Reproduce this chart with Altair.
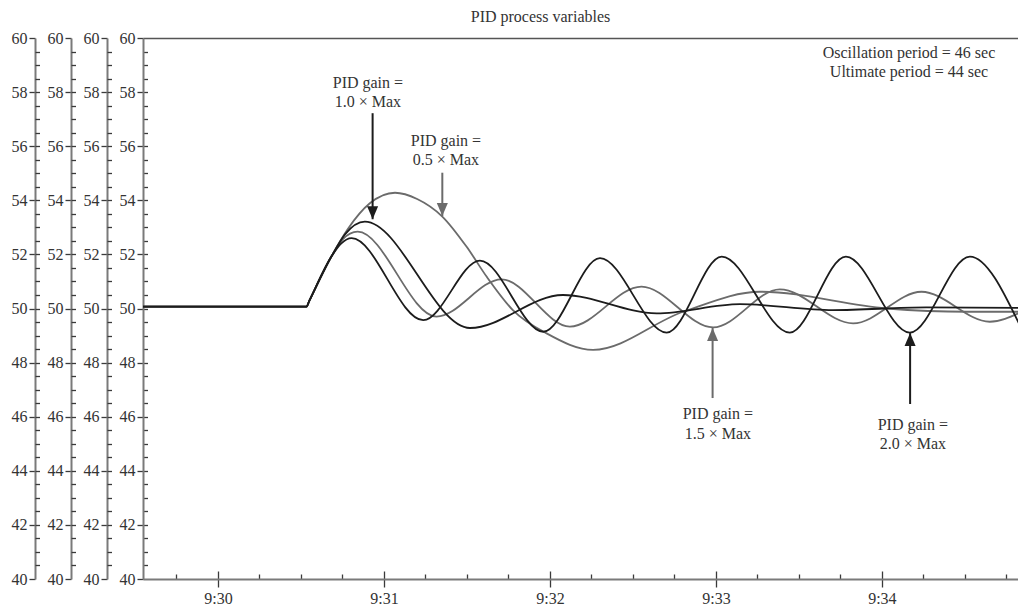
import altair as alt
import pandas as pd

# ---------------- data (times are seconds after 9:30:00) ----------------
TITLE = "PID process variables"
SERIES = ["0.5 × Max", "1.0 × Max", "1.5 × Max", "2.0 × Max"]

X_START = -27.1
X_END = 289.2
Y_MIN, Y_MAX = 40, 60

RAMP_SEC = [-27.1, 32.0, 33.0, 41.0]
RAMP_VAL = [50.07, 50.07, 50.28, 51.92]

G05_SEC = [47.0, 54.9, 64.0, 72.0, 81.1, 89.9, 97.1, 106.6, 118.8, 135.6, 168.2, 195.9, 241.7, 270.6, 290.0]
G05_VAL = [52.95, 53.89, 54.28, 54.05, 53.40, 52.28, 51.18, 49.94, 49.08, 48.47, 49.88, 50.62, 50.00, 49.88, 49.88]

G10_SEC = [46.0, 53.1, 91.1, 124.7, 158.6, 188.7, 222.3, 256.0, 290.0]
G10_VAL = [52.75, 53.21, 49.28, 50.50, 49.82, 50.16, 49.94, 50.04, 50.02]

G15_SEC = [45.0, 50.5, 79.0, 102.5, 127.2, 153.1, 179.0, 203.1, 229.6, 254.3, 279.0, 290.0]
G15_VAL = [52.55, 52.84, 49.70, 51.08, 49.33, 50.81, 49.30, 50.71, 49.45, 50.62, 49.51, 49.85]

G20_SEC = [44.5, 48.3, 74.2, 94.7, 117.6, 138.1, 162.2, 182.1, 206.7, 227.0, 250.1, 271.8, 290.0]
G20_VAL = [52.40, 52.60, 49.57, 51.77, 49.14, 51.86, 49.11, 51.92, 49.11, 51.92, 49.11, 51.92, 49.35]

ANN_SEC = [54.2, 54.2, 82.4, 82.4, 180.7, 180.7, 251.2, 251.2, 249.8, 249.8]
ANN_VAL = [58.35, 57.65, 56.19, 55.49, 46.10, 45.36, 45.69, 44.99, 59.45, 58.74]
ANN_TEXT = ["PID gain =", "1.0 × Max", "PID gain =", "0.5 × Max",
            "PID gain =", "1.5 × Max", "PID gain =", "2.0 × Max",
            "Oscillation period = 46 sec", "Ultimate period = 44 sec"]

ARROW_SERIES = ["1.0 × Max", "0.5 × Max", "1.5 × Max", "2.0 × Max"]
ARROW_SEC = [55.9, 81.1, 178.8, 250.2]
ARROW_TAIL = [57.22, 55.02, 46.69, 46.47]
ARROW_TIP = [53.30, 53.42, 49.28, 49.09]

MINUTE_TICKS = [0, 60, 120, 180, 240]
QUARTER_TICKS = [s for s in range(-15, 290, 15) if s % 60 != 0]
Y_MAJOR = list(range(40, 61, 2))
Y_MINOR = [40.5 + 0.5 * i for i in range(39)]

# ---------------- helpers ----------------
def _parts(sec):
    total_ms = int(round((9 * 3600 + 30 * 60 + sec) * 1000))
    h = total_ms // 3600000
    m = (total_ms // 60000) % 60
    s = (total_ms // 1000) % 60
    ms = total_ms % 1000
    return h, m, s, ms

def stamp(sec):
    h, m, s, ms = _parts(sec)
    return f"2024-01-01T{h:02d}:{m:02d}:{s:02d}.{ms:03d}"

def dt(sec):
    h, m, s, ms = _parts(sec)
    return alt.DateTime(year=2024, month=1, date=1, hours=h, minutes=m,
                        seconds=s, milliseconds=ms)

rows = []
for name, secs, vals in [(SERIES[0], G05_SEC, G05_VAL), (SERIES[1], G10_SEC, G10_VAL),
                         (SERIES[2], G15_SEC, G15_VAL), (SERIES[3], G20_SEC, G20_VAL)]:
    for s, v in zip(RAMP_SEC + secs, RAMP_VAL + vals):
        rows.append({"series": name, "time": stamp(s), "value": v})
lines_df = pd.DataFrame(rows)

ann_df = pd.DataFrame({"time": [stamp(s) for s in ANN_SEC], "value": ANN_VAL, "label": ANN_TEXT})
arrow_df = pd.DataFrame({"series": ARROW_SERIES, "time": [stamp(s) for s in ARROW_SEC],
                         "tail": ARROW_TAIL, "tip": ARROW_TIP})
carrier_df = pd.DataFrame({"time": [stamp(s) for s in RAMP_SEC], "value": RAMP_VAL})

# ---------------- styling ----------------
W, H = 875, 541
FONT = "Liberation Serif"
TXT = "#333333"
GRAY = "#6b6b6b"
BLACK = "#1c1c1c"
AXGRAY = "#7a7a7a"

XS = alt.Scale(domain=[dt(X_START), dt(X_END)], nice=False)
YS = alt.Scale(domain=[Y_MIN, Y_MAX], nice=False, zero=False)

def left_axis(k):
    return alt.Axis(orient="left", offset=36 * k, values=Y_MAJOR, tickSize=6,
                    tickColor="#3a3a3a", tickWidth=1.3, domainColor=AXGRAY, domainWidth=2,
                    labelFont=FONT, labelFontSize=16, labelColor=TXT, labelPadding=2,
                    grid=False, title=None)

def inner_y_axis(k):
    return alt.Axis(orient="right", offset=-(W + 36 * k), values=Y_MINOR, tickSize=4.5,
                    tickColor="#3a3a3a", tickWidth=1.3, labels=False, domain=False,
                    grid=False, title=None)

bottom_axis = alt.Axis(orient="bottom", values=[dt(s) for s in MINUTE_TICKS], format="%-H:%M",
                       tickSize=8, tickColor="#3a3a3a", tickWidth=1.3, domainColor=AXGRAY,
                       domainWidth=2, labelFont=FONT, labelFontSize=16, labelColor=TXT,
                       labelPadding=3, labelFlush=False, grid=False, title=None)
top_border = alt.Axis(orient="top", offset=0, ticks=False, labels=False, domain=True,
                      domainColor="#555555", domainWidth=1.6, grid=False, title=None)
inner_minutes = alt.Axis(orient="top", offset=-H, values=[dt(s) for s in MINUTE_TICKS],
                         tickSize=8, tickColor="#3a3a3a", tickWidth=1.3, labels=False,
                         domain=False, grid=False, title=None)
inner_quarters = alt.Axis(orient="top", offset=-H, values=[dt(s) for s in QUARTER_TICKS],
                          tickSize=5, tickColor="#3a3a3a", tickWidth=1.3, labels=False,
                          domain=False, grid=False, title=None)

def carrier(xaxis, yaxis):
    return alt.Chart(carrier_df).mark_point(opacity=0).encode(
        x=alt.X("time:T", scale=XS, axis=xaxis),
        y=alt.Y("value:Q", scale=YS, axis=yaxis),
    )

line_color = alt.Color("series:N", scale=alt.Scale(domain=SERIES, range=[GRAY, BLACK, GRAY, BLACK]),
                       legend=None)

gray_lines = alt.Chart(lines_df).transform_filter(
    alt.FieldOneOfPredicate(field="series", oneOf=[SERIES[0], SERIES[2]])
).mark_line(interpolate="monotone", strokeWidth=1.8, clip=True).encode(
    x=alt.X("time:T", scale=XS, axis=bottom_axis),
    y=alt.Y("value:Q", scale=YS, axis=left_axis(0)),
    color=line_color,
    detail="series:N",
)
black_lines = alt.Chart(lines_df).transform_filter(
    alt.FieldOneOfPredicate(field="series", oneOf=[SERIES[1], SERIES[3]])
).mark_line(interpolate="monotone", strokeWidth=1.8, clip=True).encode(
    x=alt.X("time:T", scale=XS, axis=None),
    y=alt.Y("value:Q", scale=YS, axis=None),
    color=line_color,
    detail="series:N",
)

arrow_color = alt.Color("series:N", scale=alt.Scale(domain=ARROW_SERIES,
                        range=[BLACK, GRAY, "#4f4f4f", "#4f4f4f"]), legend=None)

shafts = alt.Chart(arrow_df).mark_rule(strokeWidth=2).encode(
    x=alt.X("time:T", scale=XS, axis=None),
    y=alt.Y("tail:Q", scale=YS, axis=None),
    y2="tip:Q",
    color=arrow_color,
)
heads_down = alt.Chart(arrow_df).transform_filter("datum.tip < datum.tail").mark_point(
    shape="M-0.85,-1L0.85,-1L0,1Z", size=169, filled=True, opacity=1, yOffset=-6.5
).encode(
    x=alt.X("time:T", scale=XS, axis=None),
    y=alt.Y("tip:Q", scale=YS, axis=None),
    color=arrow_color,
)
heads_up = alt.Chart(arrow_df).transform_filter("datum.tip > datum.tail").mark_point(
    shape="M-0.85,1L0.85,1L0,-1Z", size=169, filled=True, opacity=1, yOffset=6.5
).encode(
    x=alt.X("time:T", scale=XS, axis=None),
    y=alt.Y("tip:Q", scale=YS, axis=None),
    color=arrow_color,
)
texts = alt.Chart(ann_df).mark_text(font=FONT, fontSize=16, color=TXT, align="center",
                                    baseline="middle").encode(
    x=alt.X("time:T", scale=XS, axis=None),
    y=alt.Y("value:Q", scale=YS, axis=None),
    text="label:N",
)

chart = alt.layer(
    carrier(top_border, left_axis(1)),
    carrier(inner_minutes, left_axis(2)),
    carrier(inner_quarters, left_axis(3)),
    carrier(None, inner_y_axis(0)),
    carrier(None, inner_y_axis(1)),
    carrier(None, inner_y_axis(2)),
    carrier(None, inner_y_axis(3)),
    gray_lines,
    black_lines,
    shafts,
    heads_down,
    heads_up,
    texts,
).resolve_axis(
    x="independent", y="independent"
).properties(
    width=W,
    height=H,
    title=alt.Title(TITLE, font=FONT, fontSize=16, fontWeight="normal", color=TXT,
                    anchor="middle", dx=-40, offset=5),
    padding={"left": 143, "top": 38, "right": 0, "bottom": 30},
    autosize=alt.AutoSizeParams(type="none"),
    background="white",
).configure_view(stroke=None)

chart.save("out.html", embed_options={"renderer": "svg", "actions": False})
